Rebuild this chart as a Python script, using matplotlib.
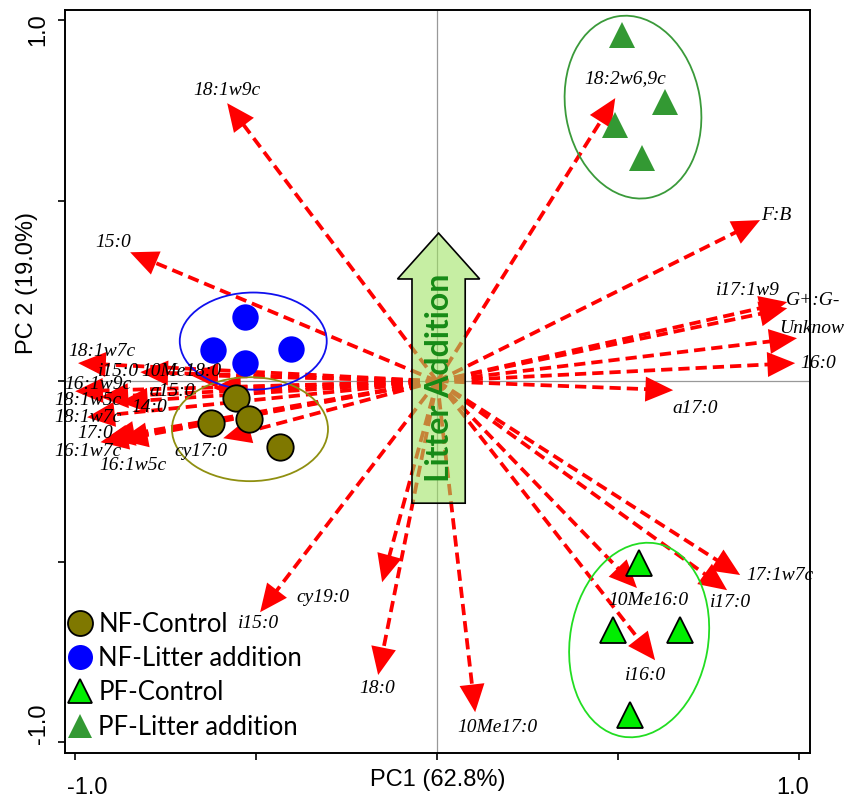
import matplotlib
matplotlib.use("Agg")
import matplotlib.pyplot as plt
import matplotlib.transforms as mtransforms
from matplotlib.patches import Ellipse, FancyArrow
from matplotlib.lines import Line2D
import numpy as np

# sample scores
nf_ctrl_x = [-0.555, -0.624, -0.519, -0.434]
nf_ctrl_y = [-0.047, -0.116, -0.105, -0.183]
nf_lit_x = [-0.530, -0.619, -0.530, -0.403]
nf_lit_y = [0.177, 0.086, 0.050, 0.089]
pf_ctrl_x = [0.558, 0.486, 0.671, 0.533]
pf_ctrl_y = [-0.504, -0.690, -0.690, -0.925]
pf_lit_x = [0.511, 0.630, 0.492, 0.566]
pf_lit_y = [0.958, 0.773, 0.709, 0.618]

# PLFA loadings (arrow tips) and label spots
var_names = ["18:1w9c", "15:0", "18:2w6,9c", "F:B", "i17:1w9", "G+:G-", "Unknow",
             "16:0", "a17:0", "17:1w7c", "i17:0", "10Me16:0", "i16:0", "10Me17:0",
             "18:0", "cy19:0", "i15:0",
             "18:1w7c", "i15:0", "10Me18:0", "16:1w9c", "a15:0", "18:1w5c", "14:0",
             "18:1w7c", "17:0", "16:1w7c", "16:1w5c", "cy17:0"]
tip_x = [-0.580, -0.848, 0.492, 0.892, 0.967, 0.967, 0.994,
         0.989, 0.652, 0.837, 0.801, 0.552, 0.602, 0.105,
         -0.163, -0.152, -0.489,
         -0.992, -0.820, -0.682, -1.000, -0.619, -0.930, -0.876,
         -0.967, -0.912, -0.930, -0.876, -0.591]
tip_y = [0.770, 0.357, 0.784, 0.446, 0.219, 0.202, 0.119,
         0.050, -0.025, -0.537, -0.579, -0.573, -0.773, -0.917,
         -0.814, -0.557, -0.640,
         0.050, 0.025, 0.017, -0.028, -0.019, -0.044, -0.058,
         -0.100, -0.158, -0.169, -0.163, -0.158]
lab_x = [-0.580, -0.895, 0.519, 0.936, 0.859, 1.039, 1.036,
         1.052, 0.713, 0.948, 0.809, 0.583, 0.575, 0.166,
         -0.166, -0.315, -0.494,
         -0.925, -0.881, -0.707, -0.936, -0.732, -0.964, -0.796,
         -0.964, -0.945, -0.964, -0.840, -0.652]
lab_y = [0.806, 0.385, 0.839, 0.460, 0.252, 0.224, 0.147,
         0.050, -0.075, -0.537, -0.612, -0.607, -0.814, -0.958,
         -0.850, -0.598, -0.670,
         0.083, 0.028, 0.028, -0.008, -0.028, -0.053, -0.072,
         -0.100, -0.144, -0.194, -0.235, -0.194]

# group ellipses: center x, center y, width, height, angle
ell_nf_ctrl = [-0.517, -0.133, 0.431, 0.288, 0]
ell_nf_lit = [-0.508, 0.111, 0.406, 0.269, 0]
ell_pf_ctrl = [0.558, -0.717, 0.381, 0.543, -10]
ell_pf_lit = [0.541, 0.759, 0.373, 0.510, 10]

fig = plt.figure(figsize=(8.62, 8.01), dpi=100)
ax = fig.add_axes([0.0754, 0.0599, 0.8643, 0.9276])
ax.set_xlim(-1.028, 1.030)
ax.set_ylim(-1.030, 1.028)

ax.axhline(0, color="#999999", lw=0.9, zorder=1)
ax.axvline(0, color="#999999", lw=0.9, zorder=1)

# dashed loading arrows
for i in range(len(var_names)):
    tx, ty = tip_x[i], tip_y[i]
    d = np.hypot(tx, ty)
    bx, by = tx - 0.05 * tx / d, ty - 0.05 * ty / d
    ax.plot([0, bx], [0, by], color="red", lw=2.7, dashes=(3, 1.6), zorder=2)
    ax.annotate("", xy=(tx, ty), xytext=(bx, by),
                arrowprops=dict(arrowstyle="-|>,head_length=1.0,head_width=0.45",
                                mutation_scale=20, color="red", lw=0,
                                shrinkA=0, shrinkB=0), zorder=2)
    ax.text(lab_x[i], lab_y[i], var_names[i], family="Liberation Serif",
            style="italic", fontsize=14, ha="center", va="center", zorder=5)

# big litter addition arrow
big = FancyArrow(0.004, -0.338, 0, 0.748, width=0.147, head_width=0.227,
                 head_length=0.127, length_includes_head=True,
                 facecolor=(0.62, 0.89, 0.38, 0.58), edgecolor="black", lw=1.2,
                 zorder=3)
ax.add_patch(big)
ax.text(0.006, 0.009, "Litter Addition", rotation=90, ha="center", va="center",
        family="Lato", fontweight="bold", fontsize=23, color="#168a16", zorder=4)

for e, c in [(ell_nf_ctrl, "#8f8f10"), (ell_nf_lit, "#1010ee"),
             (ell_pf_ctrl, "#22dd22"), (ell_pf_lit, "#3a9a3a")]:
    ax.add_patch(Ellipse((e[0], e[1]), e[2], e[3], angle=e[4], fill=False,
                         edgecolor=c, lw=1.3, zorder=3))

ax.plot(nf_ctrl_x, nf_ctrl_y, "o", ms=19, mfc="#7f7800", mec="black", mew=1.3, zorder=6)
ax.plot(nf_lit_x, nf_lit_y, "o", ms=19, mfc="#0000ff", mec="#0000ff", mew=0, zorder=6)
ax.plot(pf_ctrl_x, pf_ctrl_y, "^", ms=19, mfc="#00ee00", mec="black", mew=1.3, zorder=6)
ax.plot(pf_lit_x, pf_lit_y, "^", ms=19, mfc="#339933", mec="#339933", mew=0, zorder=6)

handles = [
    Line2D([], [], ls="", marker="o", ms=18, mfc="#7f7800", mec="black", mew=1.3),
    Line2D([], [], ls="", marker="o", ms=18, mfc="#0000ff", mec="#0000ff", mew=0),
    Line2D([], [], ls="", marker="^", ms=17, mfc="#00ee00", mec="black", mew=1.3),
    Line2D([], [], ls="", marker="^", ms=17, mfc="#339933", mec="#339933", mew=0),
]
labels = ["NF-Control", "NF-Litter addition", "PF-Control", "PF-Litter addition"]
ax.legend(handles, labels, loc="lower left", bbox_to_anchor=(0.005, 0.018),
          frameon=False, prop={"family": "Lato", "size": 18.5}, handlelength=0.85,
          handletextpad=0.3, labelspacing=0.36, borderpad=0, borderaxespad=0)

# axes cosmetics
ax.set_xticks([-1, -0.5, 0, 0.5, 1], ["-1.0", "", "", "", "1.0"])
ax.set_yticks([-1, -0.5, 0, 0.5, 1], ["-1.0", "", "", "", "1.0"])
ax.tick_params(direction="out", length=5, width=1.2, labelsize=17)
ax.tick_params(axis="x", pad=12)
ax.tick_params(axis="y", pad=6)
for lab in ax.get_yticklabels():
    lab.set_rotation(90)
    lab.set_va("center")
    lab.set_family("Liberation Sans")
for lab in ax.get_xticklabels():
    lab.set_family("Liberation Sans")
ylabs = ax.get_yticklabels()
ylabs[0].set_transform(ylabs[0].get_transform() +
                       mtransforms.ScaledTranslation(0, 0.18, fig.dpi_scale_trans))
ylabs[-1].set_transform(ylabs[-1].get_transform() +
                        mtransforms.ScaledTranslation(0, -0.10, fig.dpi_scale_trans))
xlabs = ax.get_xticklabels()
xlabs[0].set_transform(xlabs[0].get_transform() +
                       mtransforms.ScaledTranslation(0.12, 0, fig.dpi_scale_trans))
xlabs[-1].set_transform(xlabs[-1].get_transform() +
                        mtransforms.ScaledTranslation(-0.07, 0, fig.dpi_scale_trans))

ax.set_xlabel("PC1 (62.8%)", family="Liberation Sans", fontsize=17)
ax.set_ylabel("PC 2 (19.0%)", family="Liberation Sans", fontsize=17)
ax.xaxis.set_label_coords(0.5, -0.022)
ax.yaxis.set_label_coords(-0.036, 0.633)
for s in ax.spines.values():
    s.set_linewidth(1.4)

fig.savefig("out.png", dpi=100)
